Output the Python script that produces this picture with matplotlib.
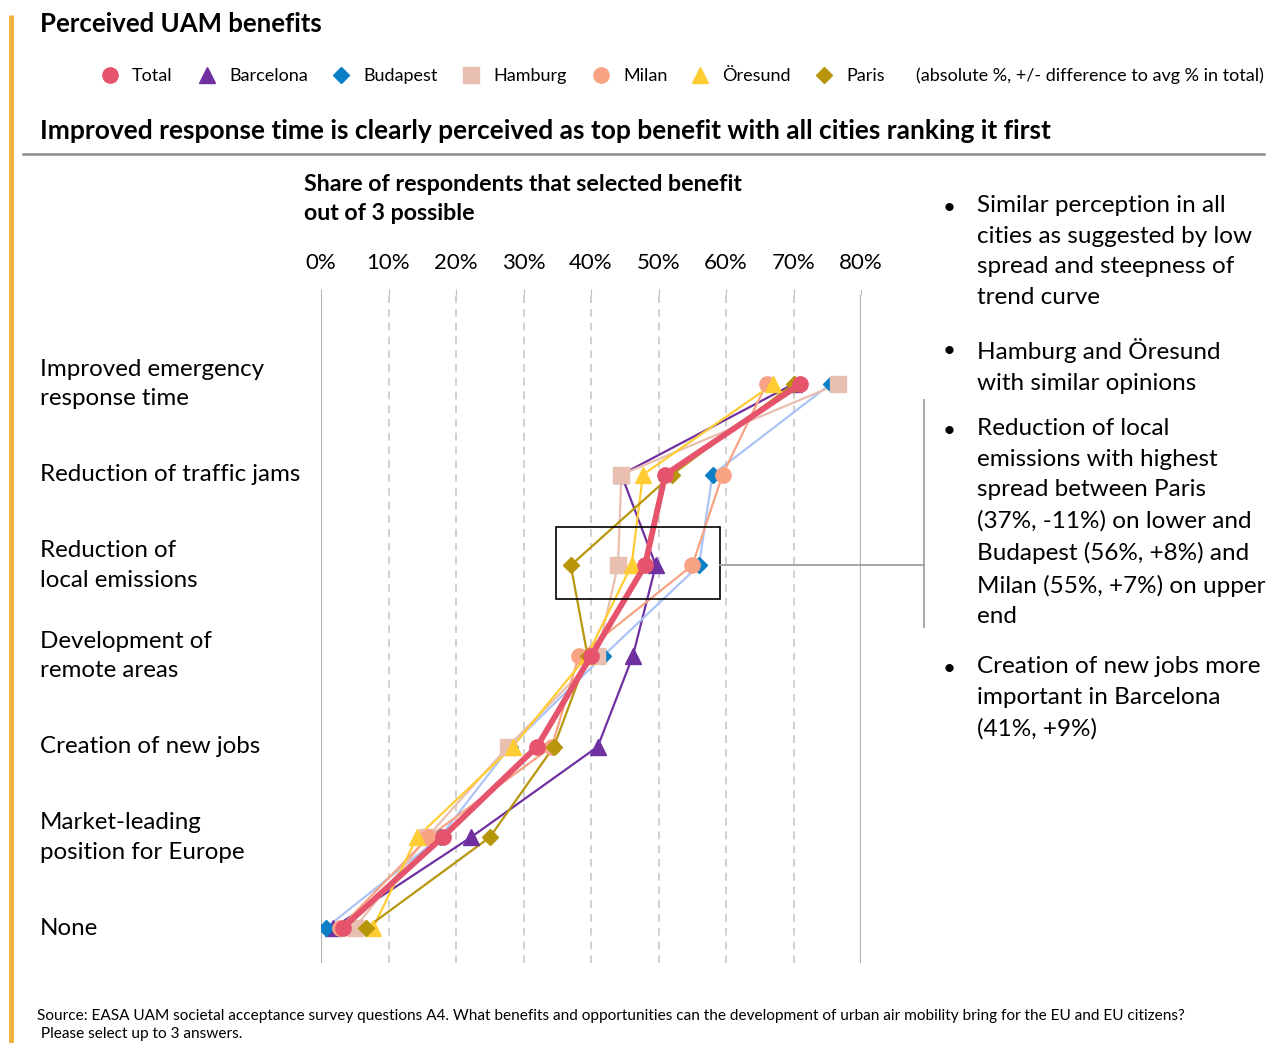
import matplotlib.pyplot as plt
from matplotlib.patches import Rectangle
from matplotlib.transforms import blended_transform_factory

plt.rcParams["font.family"] = ["Lato", "DejaVu Sans"]

# share of respondents (%) per benefit, top to bottom
benefits = [
    "Improved emergency\nresponse time",
    "Reduction of traffic jams",
    "Reduction of\nlocal emissions",
    "Development of\nremote areas",
    "Creation of new jobs",
    "Market-leading\nposition for Europe",
    "None",
]
total = [71, 51, 48, 40, 32, 18, 3.2]
barcelona = [70, 44.5, 49.6, 46.2, 41, 22.2, 1.8]
budapest = [75.5, 58, 56, 41.8, 28, 17.6, 0.7]
hamburg = [76.6, 44.5, 44, 40.9, 27.7, 15.7, 5]
milan = [66, 59.5, 55, 38.2, 34.2, 15.9, 2.8]
oresund = [67, 47.7, 46, 39.4, 28.4, 14.2, 7.7]
paris = [70, 52, 37, 39.5, 34.5, 25, 6.7]
ticks = [0, 10, 20, 30, 40, 50, 60, 70, 80]

W, H = 1279, 1043
fig = plt.figure(figsize=(W / 100, H / 100), dpi=100)

ax = fig.add_axes([321 / W, 1 - 963 / H, 540 / W, 668 / H])
rows = list(range(len(benefits)))
ax.set_xlim(0, 80)
ax.set_ylim(6 + 35 / 90.67, -89 / 90.67)
ax.set_facecolor("none")
for s in ax.spines.values():
    s.set_visible(False)
ax.set_yticks([])
ax.xaxis.tick_top()
ax.set_xticks(ticks)
ax.set_xticklabels([f"{t}%" for t in ticks], fontsize=16)
ax.tick_params(axis="x", length=4, color="#c0c0c0", pad=12)
for t in ticks:
    if t in (0, 80):
        ax.axvline(t, color="#b0b0b0", lw=1.6, zorder=0)
    else:
        ax.axvline(t, color="#c4c4c4", lw=1.1, ls=(0, (5, 4)), zorder=0)

series = [
    ("Barcelona", barcelona, "#7030a0", "#7030a0", "^", 12),
    ("Budapest", budapest, "#aac4f6", "#0a7fc6", "D", 8),
    ("Hamburg", hamburg, "#e8bfb0", "#e8bfb0", "s", 11),
    ("Milan", milan, "#f8a383", "#f8a383", "o", 11),
    ("Öresund", oresund, "#ffcd33", "#ffcd33", "^", 12),
    ("Paris", paris, "#b8960c", "#b8960c", "D", 8),
]
for name, vals, lc, mc, m, ms in series:
    ax.plot(vals, rows, color=lc, lw=1.6, zorder=2)
    ax.plot(vals, rows, ls="none", marker=m, ms=ms, color=mc, zorder=3)
ax.plot(total, rows, color="#e5546c", lw=4.2, marker="o", ms=11, zorder=4)

# benefit labels on the left
tr = blended_transform_factory(fig.transFigure, ax.transData)
for r, lab in zip(rows, benefits):
    ax.text(40 / W, r, lab, transform=tr, fontsize=17.4, va="center", ha="left",
            linespacing=1.5)

# overlay in pixel coordinates for titles, legend and annotations
ov = fig.add_axes([0, 0, 1, 1])
ov.set_xlim(0, W)
ov.set_ylim(H, 0)
ov.axis("off")
ov.set_zorder(5)

# left accent bar and header
ov.plot([11, 11], [15, H], color="#f5b13d", lw=3.5, solid_capstyle="butt")
ov.text(40, 24, "Perceived UAM benefits", fontsize=18.5, fontweight="bold", va="center")
ov.text(40, 131, "Improved response time is clearly perceived as top benefit with all cities ranking it first",
        fontsize=19, fontweight="bold", va="center")
ov.plot([23, 1264], [154, 154], color="#8c8c8c", lw=1.8)

# legend row
legend_items = [
    (110, "Total", "o", "#e5546c", 11),
    (207, "Barcelona", "^", "#7030a0", 12),
    (341, "Budapest", "D", "#0a7fc6", 8),
    (471, "Hamburg", "s", "#e8bfb0", 11),
    (601, "Milan", "o", "#f8a383", 11),
    (700, "Öresund", "^", "#ffcd33", 12),
    (824, "Paris", "D", "#b8960c", 8),
]
for x, lab, m, c, ms in legend_items:
    ov.plot([x], [75], marker=m, color=c, ms=ms, ls="none")
    ov.text(x + 22, 76, lab, fontsize=13, va="center")
ov.text(916, 76, "(absolute %, +/- difference to avg % in total)", fontsize=13, va="center")

ov.text(304, 199, "Share of respondents that selected benefit\nout of 3 possible",
        fontsize=16.7, fontweight="bold", va="center", linespacing=1.45)

# highlight box around emissions row with bracket
ov.add_patch(Rectangle((556, 527), 164, 72, fill=False, ec="black", lw=1.2))
ov.plot([720, 924], [565, 565], color="#a0a0a0", lw=1.3)
ov.plot([924, 924], [400, 627], color="#a0a0a0", lw=1.3)

# bullet commentary
bullets = [
    (208, "Similar perception in all\ncities as suggested by low\nspread and steepness of\ntrend curve"),
    (351, "Hamburg and Öresund\nwith similar opinions"),
    (431, "Reduction of local\nemissions with highest\nspread between Paris\n(37%, -11%) on lower and\nBudapest (56%, +8%) and\nMilan (55%, +7%) on upper\nend"),
    (669, "Creation of new jobs more\nimportant in Barcelona\n(41%, +9%)"),
]
for y, txt in bullets:
    ov.text(943, y, "•", fontsize=16, va="center")
    ov.text(977, y - 13, txt, fontsize=17.5, va="top", linespacing=1.57)

ov.text(37, 1025, "Source: EASA UAM societal acceptance survey questions A4. What benefits and opportunities "
        "can the development of urban air mobility bring for the EU and EU citizens?\n Please select up to 3 answers.",
        fontsize=11.1, va="center", linespacing=1.4)

fig.savefig("out.png", dpi=100)
